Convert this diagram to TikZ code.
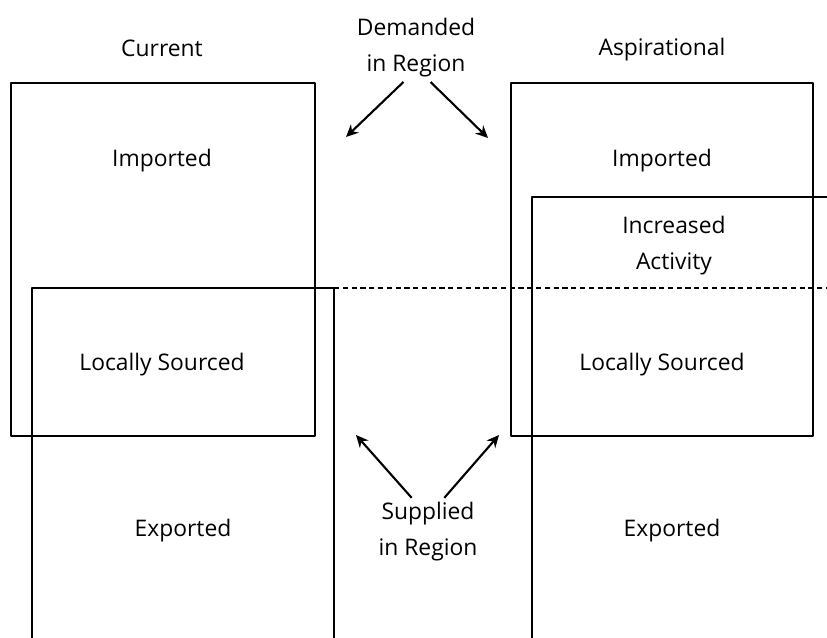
\documentclass[tikz,border=0pt]{standalone}
\usepackage{fontspec}
\setmainfont{Open Sans}
\usetikzlibrary{arrows.meta}

\begin{document}
\begin{tikzpicture}[x=0.02cm, y=-0.02cm, >={Stealth[length=7pt,width=6.5pt]},
    line join=round,
    font=\fontsize{13}{20.5}\selectfont,
    box/.style={line width=1.2pt},
    lbl/.style={align=center, inner sep=1pt},
    pointer/.style={->, line width=1.2pt, shorten <=2pt}]
        \useasboundingbox (0,0) rectangle (827,637);
        \clip (0,0) rectangle (827,637);
        % boxes
        \draw[box] (11,83) rectangle (315,436);
        \draw[box] (32,288) rectangle (334,680);
        \draw[box] (511,83) rectangle (813,436);
        \draw[box] (532,197) rectangle (860,680);
        \draw[box, dash pattern=on 3pt off 2pt] (334,288) -- (827,288);
        % titles
        \node[lbl] (cur) at (162,48) {Current};
        \node[lbl] (asp) at (662,50) {Aspirational};
        \node[lbl] (dem) at (416,48) {Demanded\\in Region};
        \node[lbl] (sup) at (428,532) {Supplied\\in Region};
        % inside the boxes
        \node[lbl] (impL) at (162,161) {Imported};
        \node[lbl] (locL) at (162,365) {Locally Sourced};
        \node[lbl] (expL) at (183,531) {Exported};
        \node[lbl] (impR) at (662,161) {Imported};
        \node[lbl] (inc) at (674,246) {Increased\\Activity};
        \node[lbl] (locR) at (662,365) {Locally Sourced};
        \node[lbl] (expR) at (672,531) {Exported};
        % arrow ends
        \coordinate (dL) at (346,137);
        \coordinate (dR) at (488,138);
        \coordinate (sL) at (356,435);
        \coordinate (sR) at (499,435);
        \draw[pointer] (dem.south)++(-10,0) -- (dL);
        \draw[pointer] (dem.south)++(12,0) -- (dR);
        \draw[pointer] (sup.north)++(-14,0) -- (sL);
        \draw[pointer] (sup.north)++(14,0) -- (sR);
\end{tikzpicture}
\end{document}
